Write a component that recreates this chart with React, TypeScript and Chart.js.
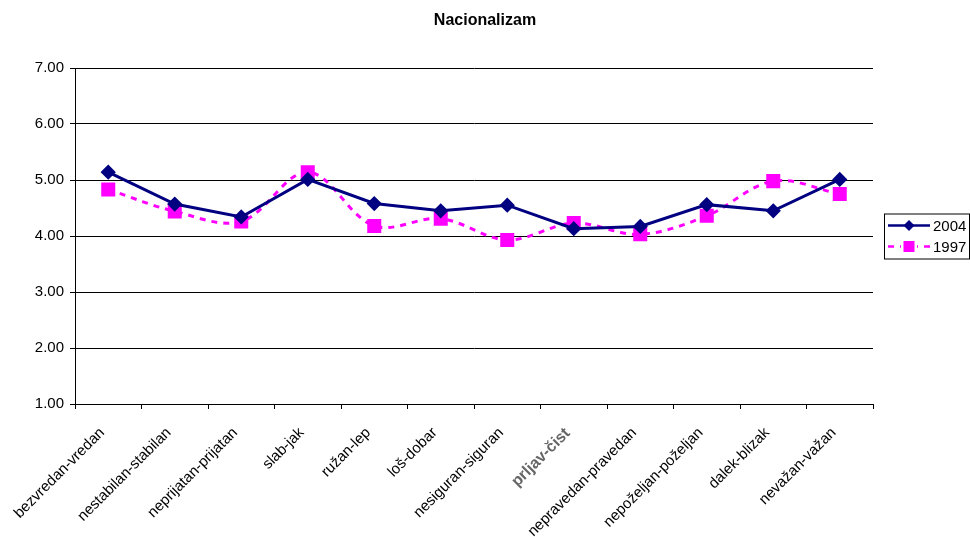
import React, { useEffect, useRef } from "react";
import { Chart, registerables } from "chart.js";

Chart.register(...registerables);

const title = "Nacionalizam";
const categories = [
  "bezvredan-vredan",
  "nestabilan-stabilan",
  "neprijatan-prijatan",
  "slab-jak",
  "ružan-lep",
  "loš-dobar",
  "nesiguran-siguran",
  "prljav-čist",
  "nepravedan-pravedan",
  "nepoželjan-poželjan",
  "dalek-blizak",
  "nevažan-važan",
];
const series2004 = [5.14, 4.57, 4.34, 5.01, 4.58, 4.45, 4.55, 4.13, 4.17, 4.56, 4.45, 5.01];
const series1997 = [4.83, 4.44, 4.26, 5.14, 4.18, 4.31, 3.93, 4.23, 4.03, 4.36, 4.98, 4.75];
const yMin = 1;
const yMax = 7;
const yStep = 1;

const FONT = "'Liberation Sans', Arial, sans-serif";

const canvasTitle = {
  id: "canvasTitle",
  afterDraw(chart: any) {
    const ctx = chart.ctx as CanvasRenderingContext2D;
    ctx.save();
    ctx.fillStyle = "#000";
    ctx.font = `bold 16px ${FONT}`;
    ctx.textAlign = "center";
    ctx.textBaseline = "middle";
    ctx.fillText(title, chart.width / 2, 20.5);
    ctx.restore();
  },
};

const boxLegend = {
  id: "boxLegend",
  afterDraw(chart: any) {
    const ctx = chart.ctx as CanvasRenderingContext2D;
    const area = chart.chartArea;
    const x0 = area.right + 11;
    const w = 85;
    const rowH = 21;
    const h = rowH * chart.data.datasets.length + 3;
    const y0 = (area.top + area.bottom) / 2 - h / 2;
    ctx.save();
    ctx.strokeStyle = "#000";
    ctx.lineWidth = 1;
    ctx.strokeRect(x0 + 0.5, y0 + 0.5, w, h);
    chart.data.datasets.forEach((ds: any, i: number) => {
      const cy = y0 + 12 + i * rowH;
      const lx1 = x0 + 4;
      const lx2 = x0 + 46;
      const mx = (lx1 + lx2) / 2;
      ctx.strokeStyle = ds.borderColor;
      ctx.lineWidth = 2.5;
      ctx.setLineDash(ds.borderDash || []);
      ctx.beginPath();
      ctx.moveTo(lx1, cy);
      ctx.lineTo(lx2, cy);
      ctx.stroke();
      ctx.setLineDash([]);
      ctx.fillStyle = ds.pointBackgroundColor;
      if (ds.pointStyle === "rectRot") {
        const r = 5.5;
        ctx.beginPath();
        ctx.moveTo(mx, cy - r);
        ctx.lineTo(mx + r, cy);
        ctx.lineTo(mx, cy + r);
        ctx.lineTo(mx - r, cy);
        ctx.closePath();
        ctx.fill();
      } else {
        ctx.fillStyle = "#fff";
        ctx.fillRect(mx - 8, cy - 6, 16, 12);
        ctx.fillStyle = ds.pointBackgroundColor;
        ctx.fillRect(mx - 5.5, cy - 5.5, 11, 11);
      }
      ctx.fillStyle = "#000";
      ctx.font = `15px ${FONT}`;
      ctx.textBaseline = "middle";
      ctx.textAlign = "left";
      ctx.fillText(ds.label, lx2 + 3, cy + 1);
    });
    ctx.restore();
  },
};

export default function App() {
  const ref = useRef<HTMLCanvasElement | null>(null);

  useEffect(() => {
    document.body.style.margin = "0";
    const canvas = ref.current;
    if (!canvas) return;
    const chart = new Chart(canvas, {
      type: "line",
      data: {
        labels: categories,
        datasets: [
          {
            label: "2004",
            data: series2004,
            borderColor: "#000080",
            backgroundColor: "#000080",
            pointBackgroundColor: "#000080",
            pointBorderColor: "#000080",
            borderWidth: 3,
            pointStyle: "rectRot",
            pointRadius: 5.5,
            pointHoverRadius: 5.5,
            tension: 0,
            fill: false,
          },
          {
            label: "1997",
            data: series1997,
            borderColor: "#FF00FF",
            backgroundColor: "#FF00FF",
            pointBackgroundColor: "#FF00FF",
            pointBorderColor: "#FF00FF",
            borderWidth: 3,
            borderDash: [6, 6],
            pointStyle: "rect",
            pointRadius: 7.8,
            pointHoverRadius: 7.8,
            tension: 0.35,
            fill: false,
          },
        ],
      },
      options: {
        responsive: false,
        animation: false,
        layout: { padding: { left: 0, right: 97, top: 68, bottom: 0 } },
        plugins: {
          legend: { display: false },
          tooltip: { enabled: false },
          title: { display: false },
        },
        scales: {
          x: {
            offset: true,
            afterFit(scale: any) {
              scale.height = 133;
            },
            grid: {
              offset: true,
              drawOnChartArea: false,
              drawTicks: true,
              tickLength: 5,
              color: "#000",
            },
            border: { color: "#000", width: 1 },
            ticks: {
              autoSkip: false,
              maxRotation: 45,
              minRotation: 45,
              padding: 15,
              labelOffset: -6,
              color: (c: any) => (c.index === 7 ? "#666" : "#000"),
              font: (c: any) =>
                c.index === 7
                  ? { family: FONT, size: 16, weight: "bold" }
                  : { family: FONT, size: 15 },
            },
          },
          y: {
            min: yMin,
            max: yMax,
            afterFit(scale: any) {
              scale.width = 75;
            },
            grid: {
              color: "#000",
              lineWidth: 1,
              drawTicks: true,
              tickLength: 5,
            },
            border: { color: "#000", width: 1 },
            ticks: {
              stepSize: yStep,
              padding: 6,
              color: "#000",
              font: { family: FONT, size: 15 },
              callback: (v: any) => Number(v).toFixed(2),
            },
          },
        },
      },
      plugins: [boxLegend, canvasTitle],
    });
    return () => chart.destroy();
  }, []);

  return (
    <div style={{ position: "fixed", left: 0, top: 0, width: 970, height: 537, background: "#fff" }}>
      <canvas ref={ref} width={970} height={537} style={{ width: 970, height: 537, display: "block" }} />
    </div>
  );
}
